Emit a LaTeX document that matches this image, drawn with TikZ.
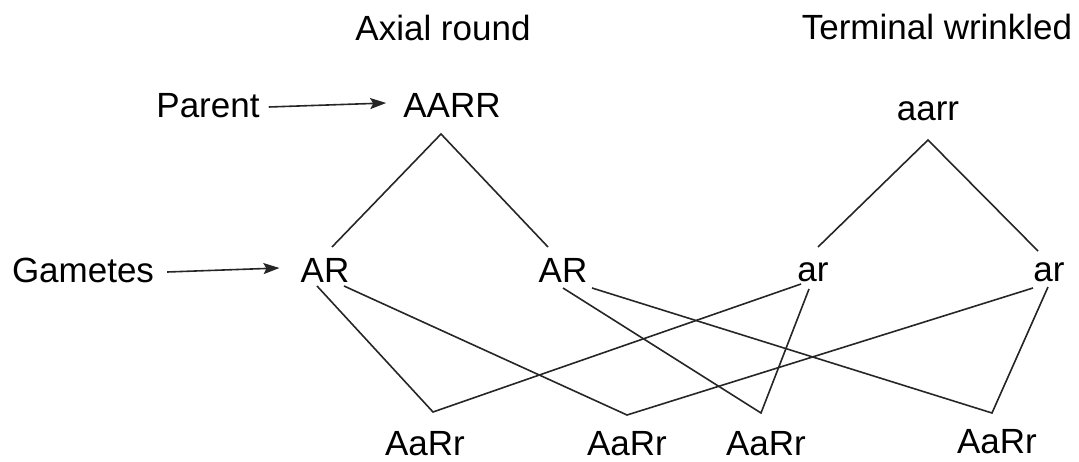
\documentclass[tikz,border=0pt]{standalone}
\usepackage{fontspec}
\setmainfont{Liberation Sans}
\usetikzlibrary{arrows.meta}
\begin{document}
\begin{tikzpicture}[x=1pt,y=-1pt,
  lbl/.style={inner sep=0pt,font=\fontsize{35}{40}\selectfont,text height=25pt,text depth=0pt},
  link/.style={draw=black!85,line width=1.6pt},
  pointer/.style={draw=black!85,line width=1.6pt,-{Stealth[length=16pt,width=11pt,inset=3pt]}}]
\useasboundingbox (0,0) rectangle (1079,462);
% titles
\node[lbl] (axial) at (443,28) {Axial round};
\node[lbl] (term) at (937,27) {Terminal wrinkled};
% parents
\node[lbl] (parent) at (208,105) {Parent};
\node[lbl] (AARR) at (452,105) {AARR};
\node[lbl] (aarr) at (928,108) {aarr};
% gametes
\node[lbl] (gam) at (83,270) {Gametes};
\node[lbl] (AR1) at (325,270) {AR};
\node[lbl] (AR2) at (563,270) {AR};
\node[lbl] (ar1) at (813,269) {ar};
\node[lbl] (ar2) at (1049,269) {ar};
% offspring
\node[lbl] (o1) at (425,443) {AaRr};
\node[lbl] (o2) at (627,443) {AaRr};
\node[lbl] (o3) at (766,443) {AaRr};
\node[lbl] (o4) at (997,441) {AaRr};
% arrows
\draw[pointer] (parent.east) ++(9,2) coordinate (pa) -- ([xshift=-17pt,yshift=2pt]AARR.west);
\draw[pointer] (gam.east) ++(13,2) coordinate (ga) -- ([xshift=-21pt,yshift=2pt]AR1.west);
% cross lines: parent to gametes
\coordinate (apexA) at (441,134);
\coordinate (AR1t) at (332,247);
\coordinate (AR2t) at (548,247);
\draw[link] (AR1t) -- (apexA) -- (AR2t);
\coordinate (apexa) at (928,140);
\coordinate (ar1t) at (818,247);
\coordinate (ar2t) at (1038,251);
\draw[link] (ar1t) -- (apexa) -- (ar2t);
% offspring vertices
\coordinate (v1) at (433,412);
\coordinate (v2) at (627,415);
\coordinate (v3) at (761,413);
\coordinate (v4) at (992,413);
% gamete line starts
\coordinate (AR1a) at (317,286);
\coordinate (AR1b) at (344,286);
\coordinate (AR2a) at (563,288);
\coordinate (AR2b) at (592,288);
\coordinate (ar1a) at (801,284);
\coordinate (ar1b) at (809,289);
\coordinate (ar2a) at (1033,288);
\coordinate (ar2b) at (1048,287);
\draw[link] (AR1a) -- (v1) -- (ar1a);
\draw[link] (AR1b) -- (v2) -- (ar2a);
\draw[link] (AR2a) -- (v3) -- (ar1b);
\draw[link] (AR2b) -- (v4) -- (ar2b);
\end{tikzpicture}
\end{document}
